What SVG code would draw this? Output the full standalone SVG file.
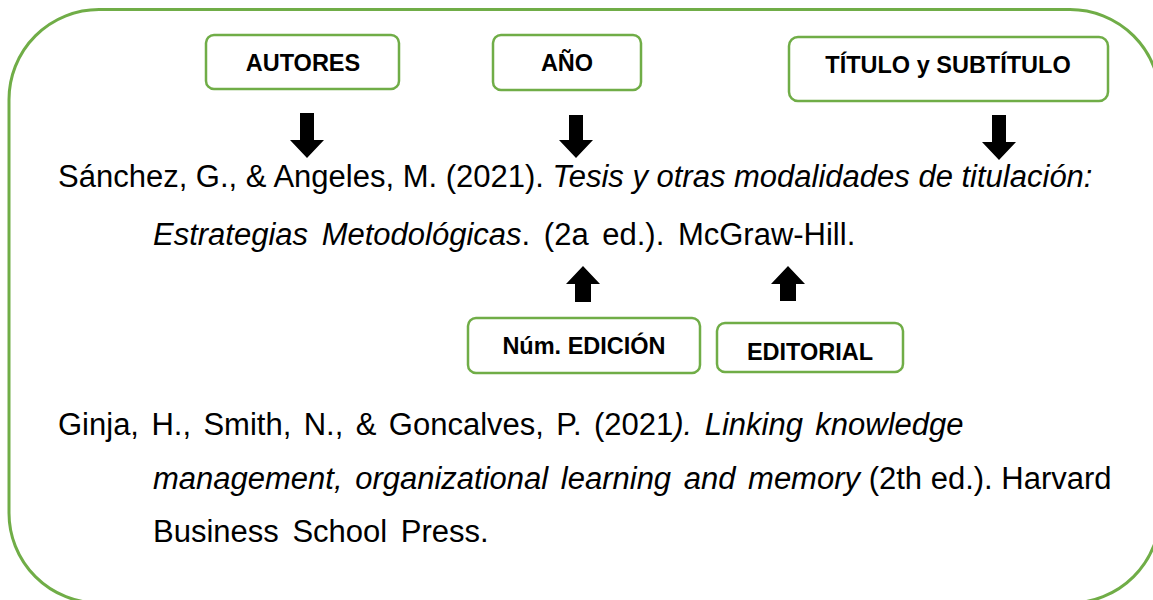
<svg xmlns="http://www.w3.org/2000/svg" width="1153" height="600" viewBox="0 0 1153 600">
<style>
.frame{fill:none;stroke:#70AD47;stroke-width:3}
.box{fill:#fff;stroke:#70AD47;stroke-width:2.5}
.lbl{font-family:"Liberation Sans",Arial,sans-serif;font-weight:bold;font-size:23.5px;fill:#000;text-anchor:middle}
.body{font-family:"Liberation Sans",Arial,sans-serif;font-size:31px;fill:#000}
.it{font-style:italic}
.arr{fill:#000}
</style>
<rect class="frame" x="9" y="9.5" width="1151" height="593.5" rx="90" ry="90"/>
<g id="autores"><rect class="box" x="206" y="35" width="193" height="54" rx="8"/><text class="lbl" x="303" y="71">AUTORES</text></g>
<g id="anio"><rect class="box" x="493" y="35" width="148" height="55" rx="8"/><text class="lbl" x="567" y="71">AÑO</text></g>
<g id="titulo"><rect class="box" x="789" y="37" width="319" height="64" rx="9"/><text class="lbl" x="948" y="73">TÍTULO y SUBTÍTULO</text></g>
<g id="edicion"><rect class="box" x="468" y="318" width="232" height="55" rx="8"/><text class="lbl" x="584" y="354">Núm. EDICIÓN</text></g>
<g id="editorial"><rect class="box" x="717" y="323" width="186" height="49" rx="8"/><text class="lbl" x="810" y="360">EDITORIAL</text></g>
<g id="connectors">
<path class="arr" d="M300,113 H314 V140 H324 L307,158 L290,140 H300 Z"/>
<path class="arr" d="M569,115 H583 V140 H593 L576,158 L559,140 H569 Z"/>
<path class="arr" d="M992,115 H1006 V142 H1016 L999,160 L982,142 H992 Z"/>
<path class="arr" d="M575,302 H591 V284 H600 L583,266 L566,284 H575 Z"/>
<path class="arr" d="M780,301 H796 V284 H805 L788,266 L771,284 H780 Z"/>
</g>
<g id="references">
<text class="body" x="58" y="187">Sánchez, G., &amp; Angeles, M. (2021). <tspan class="it">Tesis y otras modalidades de titulación:</tspan></text>
<text class="body" x="153" y="245" word-spacing="5"><tspan class="it">Estrategias Metodológicas</tspan>. (2a ed.). McGraw-Hill.</text>
<text class="body" x="58" y="435" word-spacing="3.8">Ginja, H., Smith, N., &amp; Goncalves, P. (2021<tspan class="it">). Linking knowledge</tspan></text>
<text class="body" x="153" y="489"><tspan class="it" word-spacing="4">management, organizational learning and memory</tspan> (2th ed.). Harvard</text>
<text class="body" x="153" y="542" word-spacing="5">Business School Press.</text>
</g>
</svg>
